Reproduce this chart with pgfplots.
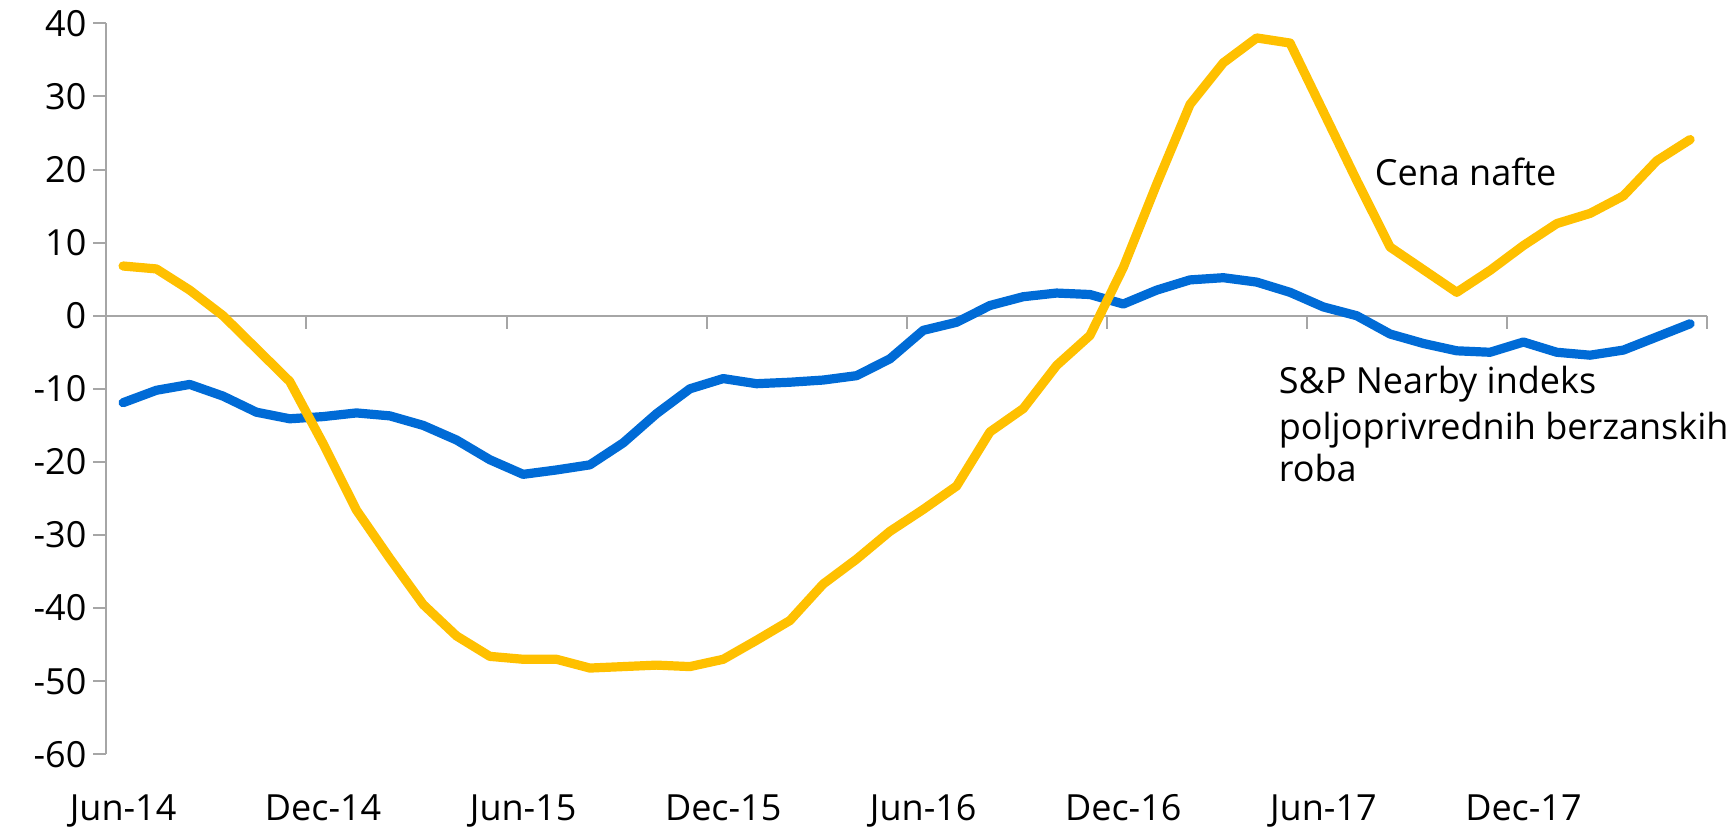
\documentclass[border=0pt]{standalone}
\usepackage{pgfplots}
\pgfplotsset{compat=1.18}
\usepackage{pgfplotstable}
\usepackage{fontspec}
\setmainfont{Open Sans}
\definecolor{oil}{RGB}{255,192,0}
\definecolor{agri}{RGB}{0,107,214}
\definecolor{axgray}{RGB}{166,166,166}

\pgfplotstableread{
i oil agri
0 6.8 -11.9
1 6.4 -10.2
2 3.5 -9.4
3 0.0 -11.0
4 -4.5 -13.2
5 -9.0 -14.1
6 -17.5 -13.8
7 -26.6 -13.3
8 -33.2 -13.7
9 -39.5 -15.0
10 -43.8 -17.0
11 -46.6 -19.7
12 -47.0 -21.7
13 -47.0 -21.1
14 -48.2 -20.4
15 -48.0 -17.4
16 -47.8 -13.4
17 -48.0 -10.0
18 -47.0 -8.6
19 -44.4 -9.3
20 -41.7 -9.1
21 -36.7 -8.8
22 -33.3 -8.2
23 -29.5 -5.9
24 -26.5 -2.0
25 -23.3 -0.9
26 -15.9 1.4
27 -12.7 2.6
28 -6.8 3.1
29 -2.7 2.9
30 6.6 1.6
31 18.0 3.5
32 28.9 4.9
33 34.6 5.2
34 38.0 4.6
35 37.3 3.2
36 27.9 1.2
37 18.5 0.0
38 9.4 -2.5
39 6.3 -3.8
40 3.2 -4.8
41 6.2 -5.0
42 9.6 -3.6
43 12.6 -5.0
44 14.0 -5.4
45 16.4 -4.7
46 21.2 -2.9
47 24.1 -1.1
}\data

\begin{document}
\begin{tikzpicture}
\begin{axis}[
  at={(0,0)}, anchor=south west,
  scale only axis, width=800.2pt, height=365.5pt,
  xmin=-0.5, xmax=47.5, ymin=-60, ymax=40,
  axis y line=left, axis x line=bottom,
  axis line style={-, axgray, line width=1pt},
  x axis line style={draw=none},
  ytick={-60,-50,...,40},
  yticklabels={-60,-50,-40,-30,-20,-10,0,10,20,30,40},
  xtick={0,6,12,18,24,30,36,42},
  xticklabels={Jun-14,Dec-14,Jun-15,Dec-15,Jun-16,Dec-16,Jun-17,Dec-17},
  major tick length=6.5pt,
  xtick style={draw=none},
  ytick style={axgray, line width=1pt},
  tick align=outside,
  tick label style={font=\fontsize{18}{21}\selectfont, text=black},
  yticklabel style={anchor=east},
  xticklabel style={anchor=north, yshift=-10pt},
  clip=false,
]
\addplot[axgray, line width=1pt, forget plot] coordinates {(-0.5,0) (47.5,0)};
\addplot[ycomb, axgray, line width=1pt, no marks, forget plot] coordinates {(5.5,-1.8) (11.5,-1.8) (17.5,-1.8) (23.5,-1.8) (29.5,-1.8) (35.5,-1.8) (41.5,-1.8) (47.5,-1.8)};
\addplot[agri, line width=4.6pt, line join=round, line cap=round, no marks] table[x=i, y=agri] {\data};
\addplot[oil, line width=4.6pt, line join=round, line cap=round, no marks] table[x=i, y=oil] {\data};
\node[anchor=base west, inner sep=0pt, font=\fontsize{18}{21}\selectfont] at (axis cs:37.53,17.77) {Cena nafte};
\node[anchor=base west, inner sep=0pt, font=\fontsize{18}{21}\selectfont] at (axis cs:34.65,-10.6) {S\&P Nearby indeks};
\node[anchor=base west, inner sep=0pt, font=\fontsize{18}{21}\selectfont] at (axis cs:34.65,-17.0) {poljoprivrednih berzanskih};
\node[anchor=base west, inner sep=0pt, font=\fontsize{18}{21}\selectfont] at (axis cs:34.65,-22.7) {roba};
\end{axis}
\pgfresetboundingbox
\path (-53.2pt,-36.35pt) rectangle (813.3pt,377.15pt);
\end{tikzpicture}
\end{document}
